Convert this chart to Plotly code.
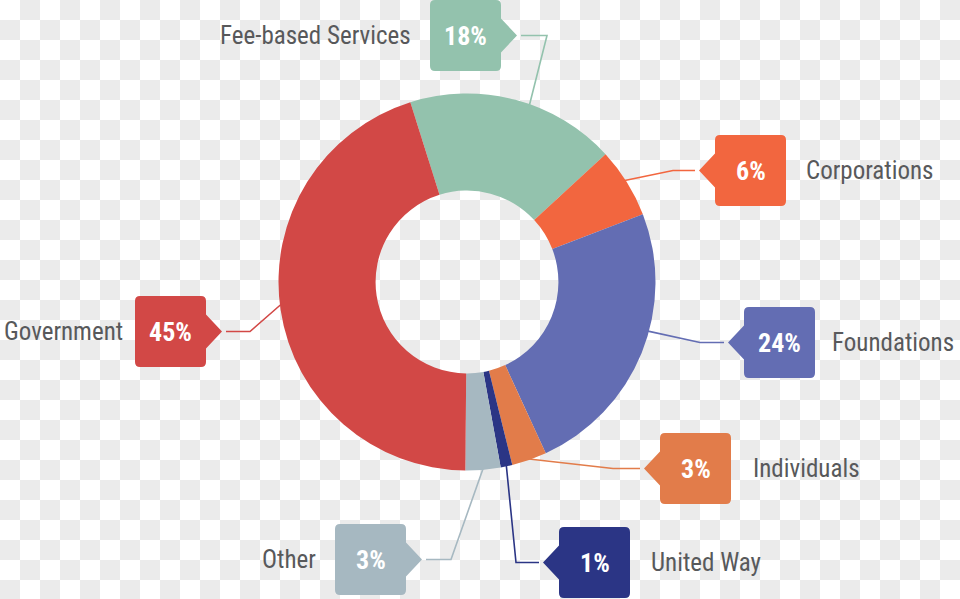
import math
import plotly.graph_objects as go

# ---------------- data ----------------
categories = ["Fee-based Services", "Corporations", "Foundations", "Individuals",
              "United Way", "Other", "Government"]
shares = [18, 6, 24, 3, 1, 3, 45]
pct_labels = ["18%", "6%", "24%", "3%", "1%", "3%", "45%"]
colors = ["#93c2ad", "#f2663f", "#636db3", "#e27c4a", "#2b3585", "#a6b8c1", "#d24846"]

# ---------------- layout constants ----------------
W, H = 960, 599
CX, CY, R = 467, 282, 188.5          # donut centre / outer radius in px
HOLE = 0.485
ROTATION = -17.5                      # first slice starts here (deg, clockwise from 12 o'clock)

# callout tags: box left, box top, arrow side, bend x, anchor fraction inside slice, label gap
tag_left = [430, 715, 744, 660, 559, 335, 135]
tag_top = [0, 135, 307, 433, 527, 524, 296]
tag_side = ["right", "left", "left", "left", "left", "right", "right"]
bend_x = [547, 673, 700, 613, 516, 451, 250]
anchor_frac = [0.57, 0.46, 0.42, 0.5, 0.5, 0.5, 0.51]
label_gap = [17, 18, 15, 20, 19, 17, 10]
BOX_W, BOX_H, TIP, HALF, RAD = 71, 71, 16, 17, 5

LABEL_FONT = "Liberation Sans Narrow, Roboto Condensed, DejaVu Sans Condensed, sans-serif"
LABEL_COLOR = "#58595b"
LABEL_SIZE = 25
PCT_SIZE = 26

fig = go.Figure()

# transparent-background checkerboard (20 px squares)
nx, ny = 48, 30
z = [[(i + j) % 2 for i in range(nx)] for j in range(ny)]
fig.add_trace(go.Heatmap(z=z, x0=10, dx=20, y0=10, dy=20,
                         colorscale=[[0, "#ffffff"], [1, "#ebebeb"]],
                         showscale=False, hoverinfo="skip", zsmooth=False))

# donut
fig.add_trace(go.Pie(
    labels=categories, values=shares, sort=False, direction="clockwise",
    rotation=ROTATION, hole=HOLE, textinfo="none", hoverinfo="label+percent",
    marker=dict(colors=colors, line=dict(width=0)), showlegend=False,
    domain=dict(x=[(CX - R) / W, (CX + R) / W],
                y=[(H - (CY + R)) / H, (H - (CY - R)) / H]),
))

shapes = []
annotations = []
total = sum(shares)
cum = 0
for i, cat in enumerate(categories):
    span = 360 * shares[i] / total
    start = ROTATION + 360 * cum / total
    cum += shares[i]
    a = math.radians(start + anchor_frac[i] * span)
    ax, ay = CX + (R - 1) * math.sin(a), CY - (R - 1) * math.cos(a)

    x0, y0 = tag_left[i], tag_top[i]
    x1, y1 = x0 + BOX_W, y0 + BOX_H
    ty = (y0 + y1) / 2
    r = RAD
    if tag_side[i] == "right":
        tx = x1 + TIP
        path = (f"M {x0+r},{y0} L {x1-r},{y0} Q {x1},{y0} {x1},{y0+r} "
                f"L {x1},{ty-HALF} L {tx},{ty} L {x1},{ty+HALF} "
                f"L {x1},{y1-r} Q {x1},{y1} {x1-r},{y1} L {x0+r},{y1} "
                f"Q {x0},{y1} {x0},{y1-r} L {x0},{y0+r} Q {x0},{y0} {x0+r},{y0} Z")
        lx = tx + 4
    else:
        tx = x0 - TIP
        path = (f"M {x0+r},{y0} L {x1-r},{y0} Q {x1},{y0} {x1},{y0+r} "
                f"L {x1},{y1-r} Q {x1},{y1} {x1-r},{y1} L {x0+r},{y1} "
                f"Q {x0},{y1} {x0},{y1-r} L {x0},{ty+HALF} L {tx},{ty} "
                f"L {x0},{ty-HALF} L {x0},{y0+r} Q {x0},{y0} {x0+r},{y0} Z")
        lx = tx - 4
    shapes.append(dict(type="path", path=path, xref="x", yref="y",
                       fillcolor=colors[i], line=dict(width=0), layer="above"))
    shapes.append(dict(type="path",
                       path=f"M {lx},{ty} L {bend_x[i]},{ty} L {ax:.1f},{ay:.1f}",
                       xref="x", yref="y", line=dict(color=colors[i], width=1.6),
                       layer="above"))
    annotations.append(dict(x=(x0 + x1) / 2, y=ty, xref="x", yref="y",
                            text=f"<b>{pct_labels[i]}</b>", showarrow=False,
                            xanchor="center", yanchor="middle",
                            font=dict(family=LABEL_FONT, size=PCT_SIZE, color="#ffffff")))
    if tag_side[i] == "right":
        annotations.append(dict(x=x0 - label_gap[i], y=ty, xref="x", yref="y", text=cat,
                                showarrow=False, xanchor="right", yanchor="middle",
                                font=dict(family=LABEL_FONT, size=LABEL_SIZE,
                                          color=LABEL_COLOR)))
    else:
        annotations.append(dict(x=x1 + label_gap[i], y=ty, xref="x", yref="y", text=cat,
                                showarrow=False, xanchor="left", yanchor="middle",
                                font=dict(family=LABEL_FONT, size=LABEL_SIZE,
                                          color=LABEL_COLOR)))

fig.update_layout(
    width=W, height=H, autosize=False,
    margin=dict(l=0, r=0, t=0, b=0, pad=0),
    paper_bgcolor="#ffffff", plot_bgcolor="#ffffff",
    xaxis=dict(range=[0, W], visible=False, fixedrange=True, domain=[0, 1]),
    yaxis=dict(range=[H, 0], visible=False, fixedrange=True, domain=[0, 1]),
    shapes=shapes, annotations=annotations,
)

fig.write_html("out.html")
